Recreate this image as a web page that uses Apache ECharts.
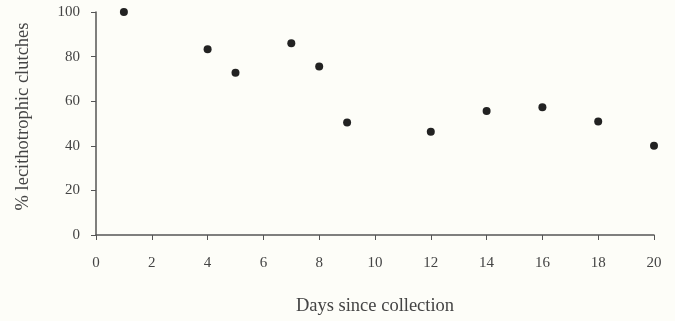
<!DOCTYPE html>
<html>
<head>
<meta charset="utf-8">
<script src="https://cdn.jsdelivr.net/npm/echarts@6/dist/echarts.min.js"></script>
<style>
  html, body { margin: 0; padding: 0; background: #fdfdf8; }
  #chart { width: 675px; height: 321px; }
</style>
</head>
<body>
<div id="chart"></div>
<script>
var days = [1, 4, 5, 7, 8, 9, 12, 14, 16, 18, 20]
var pct_lecitho = [100, 83.3, 72.8, 86, 75.6, 50.4, 46.3, 55.6, 57.3, 50.9, 40]

var points = Array()
days.forEach(function(d, i){
  points.push([d, pct_lecitho[i]])
})

var chart_div = echarts.init(document.getElementById('chart'))
var txt = '#444'
var font = '"Liberation Serif", "DejaVu Serif", serif'

option = {
  backgroundColor: '#fdfdf8',
  animation: false,
  grid: {
    left: 96,
    right: 21,
    top: 12,
    bottom: 81
  },
  xAxis: {
    type: 'value',
    min: 0,
    max: 20,
    interval: 2,
    name: 'Days since collection',
    nameLocation: 'middle',
    nameGap: 62,
    nameTextStyle: { color: txt, fontFamily: font, fontSize: 18.5 },
    axisLine: { lineStyle: { color: '#555', width: 1.5 } },
    axisTick: { length: 5, lineStyle: { color: '#555' } },
    axisLabel: { color: txt, fontFamily: font, fontSize: 15, margin: 21 },
    splitLine: { show: false }
  },
  yAxis: {
    type: 'value',
    min: 0,
    max: 100,
    interval: 20,
    name: '% lecithotrophic clutches',
    nameLocation: 'middle',
    nameGap: 63,
    nameTextStyle: { color: txt, fontFamily: font, fontSize: 18.5, padding: [0, 0, 0, 14] },
    axisLine: { show: true, lineStyle: { color: '#555', width: 1.5 } },
    axisTick: { show: true, length: 5, lineStyle: { color: '#555' } },
    axisLabel: { color: txt, fontFamily: font, fontSize: 15, margin: 16 },
    splitLine: { show: false }
  },
  series: [
    {
      type: 'scatter',
      data: points,
      symbolSize: 8,
      itemStyle: { color: '#222', opacity: 1 }
    }
  ]
};

chart_div.setOption(option, true);
</script>
</body>
</html>
